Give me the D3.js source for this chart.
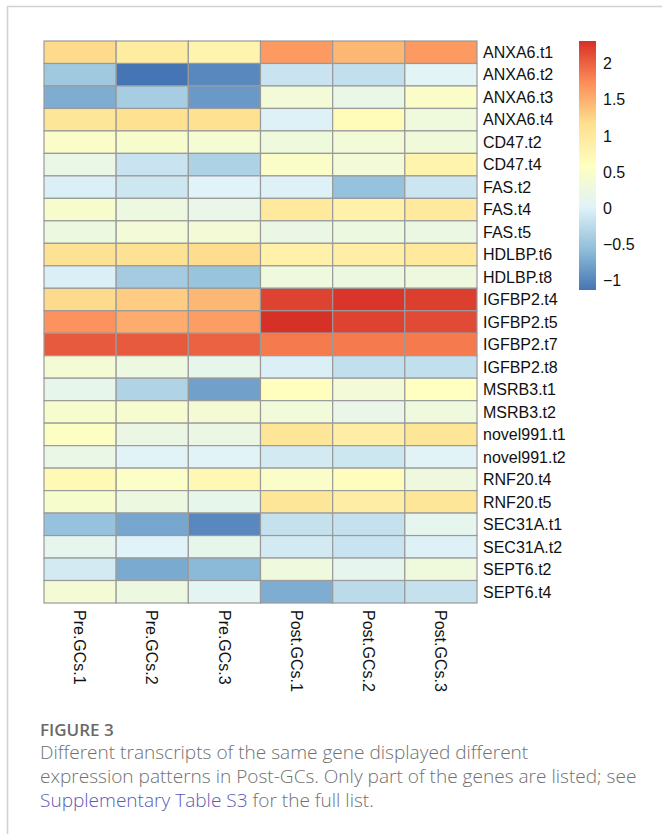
<!DOCTYPE html>
<html>
<head>
<meta charset="utf-8">
<script src="https://cdn.jsdelivr.net/npm/d3@7"></script>
<style>
  html, body { margin: 0; padding: 0; background: #fff; }
  svg { display: block; }
</style>
</head>
<body>
<svg id="fig" width="662" height="834"></svg>
<script>
// Samples (columns) and transcripts (rows)
const samples = ["Pre.GCs.1", "Pre.GCs.2", "Pre.GCs.3", "Post.GCs.1", "Post.GCs.2", "Post.GCs.3"];
const transcripts = [
  "ANXA6.t1", "ANXA6.t2", "ANXA6.t3", "ANXA6.t4", "CD47.t2", "CD47.t4",
  "FAS.t2", "FAS.t4", "FAS.t5", "HDLBP.t6", "HDLBP.t8", "IGFBP2.t4",
  "IGFBP2.t5", "IGFBP2.t7", "IGFBP2.t8", "MSRB3.t1", "MSRB3.t2",
  "novel991.t1", "novel991.t2", "RNF20.t4", "RNF20.t5", "SEC31A.t1",
  "SEC31A.t2", "SEPT6.t2", "SEPT6.t4"
];

// Scaled expression, one array per transcript (Pre 1-3, Post 1-3)
const ANXA6_t1   = [1.20, 0.95, 0.80, 1.65, 1.45, 1.65];
const ANXA6_t2   = [-0.45, -1.13, -0.98, -0.15, -0.20, 0.05];
const ANXA6_t3   = [-0.70, -0.40, -0.85, 0.35, 0.20, 0.50];
const ANXA6_t4   = [1.05, 1.15, 1.15, 0.00, 0.65, 0.30];
const CD47_t2    = [0.50, 0.45, 0.40, 0.30, 0.35, 0.32];
const CD47_t4    = [0.20, -0.15, -0.35, 0.50, 0.35, 0.80];
const FAS_t2     = [-0.03, -0.12, 0.02, 0.00, -0.52, -0.13];
const FAS_t4     = [0.45, 0.25, 0.18, 1.00, 0.85, 1.00];
const FAS_t5     = [0.25, 0.35, 0.37, 0.22, 0.25, 0.23];
const HDLBP_t6   = [1.12, 1.12, 1.18, 0.85, 0.90, 1.00];
const HDLBP_t8   = [-0.03, -0.42, -0.50, 0.28, 0.25, 0.27];
const IGFBP2_t4  = [1.20, 1.30, 1.45, 2.20, 2.28, 2.22];
const IGFBP2_t5  = [1.70, 1.52, 1.62, 2.31, 2.20, 2.15];
const IGFBP2_t7  = [2.05, 2.05, 2.00, 1.85, 1.85, 1.85];
const IGFBP2_t8  = [0.38, 0.25, 0.15, -0.03, -0.20, -0.20];
const MSRB3_t1   = [0.15, -0.33, -0.80, 0.60, 0.35, 0.58];
const MSRB3_t2   = [0.45, 0.42, 0.38, 0.33, 0.18, 0.28];
const novel991_t1 = [0.55, 0.22, 0.22, 1.05, 0.92, 1.05];
const novel991_t2 = [0.20, 0.03, 0.03, -0.08, -0.12, 0.03];
const RNF20_t4   = [0.70, 0.52, 0.72, 0.50, 0.62, 0.27];
const RNF20_t5   = [0.45, 0.25, 0.15, 1.05, 0.92, 1.05];
const SEC31A_t1  = [-0.52, -0.75, -0.98, -0.18, -0.18, 0.12];
const SEC31A_t2  = [0.12, 0.02, 0.15, -0.08, -0.15, 0.00];
const SEPT6_t2   = [-0.08, -0.72, -0.60, 0.28, 0.12, 0.30];
const SEPT6_t4   = [0.38, 0.25, 0.08, -0.70, -0.25, -0.18];

const rows = [
  ANXA6_t1, ANXA6_t2, ANXA6_t3, ANXA6_t4, CD47_t2, CD47_t4,
  FAS_t2, FAS_t4, FAS_t5, HDLBP_t6, HDLBP_t8, IGFBP2_t4,
  IGFBP2_t5, IGFBP2_t7, IGFBP2_t8, MSRB3_t1, MSRB3_t2,
  novel991_t1, novel991_t2, RNF20_t4, RNF20_t5, SEC31A_t1,
  SEC31A_t2, SEPT6_t2, SEPT6_t4
];

// Legend tick values
const legendTicks = [-1, -0.5, 0, 0.5, 1, 1.5, 2];

// Reversed RdYlBu (7 classes), blue -> red
const palette = ["#4575b4", "#91bfdb", "#e0f3f8", "#ffffbf", "#fee090", "#fc8d59", "#d73027"];

const cells = [];
rows.forEach((vals, i) => vals.forEach((v, j) => cells.push({ row: transcripts[i], col: samples[j], v })));

const [vmin, vmax] = d3.extent(cells, d => d.v);
const color = d3.scaleLinear()
  .domain(palette.map((_, k) => vmin + (vmax - vmin) * k / (palette.length - 1)))
  .range(palette)
  .interpolate(d3.interpolateRgb);

const svg = d3.select("#fig");

// Page frame
svg.append("path")
  .attr("d", "M7.5,834 V6.5 H662")
  .attr("fill", "none")
  .attr("stroke", "#d2d2d2")
  .attr("stroke-width", 1.6);

// Heatmap area
const hm = { left: 44, top: 41, right: 477, bottom: 603 };
const x = d3.scaleBand().domain(samples).range([hm.left, hm.right]);
const y = d3.scaleBand().domain(transcripts).range([hm.top, hm.bottom]);

svg.append("g")
  .selectAll("rect")
  .data(cells)
  .join("rect")
  .attr("x", d => x(d.col))
  .attr("y", d => y(d.row))
  .attr("width", x.bandwidth())
  .attr("height", y.bandwidth())
  .attr("fill", d => color(d.v))
  .attr("stroke", "#9a9a9a")
  .attr("stroke-width", 1.2);

const labelFont = "'Liberation Sans', Arial, Helvetica, sans-serif";

// Row labels
svg.append("g")
  .selectAll("text")
  .data(transcripts)
  .join("text")
  .attr("x", hm.right + 6)
  .attr("y", d => y(d) + y.bandwidth() / 2)
  .attr("dy", "0.36em")
  .attr("font-family", labelFont)
  .attr("font-size", 16)
  .attr("fill", "#111")
  .text(d => d);

// Column labels, rotated to read downward
svg.append("g")
  .selectAll("text")
  .data(samples)
  .join("text")
  .attr("transform", d => `translate(${x(d) + x.bandwidth() / 2},${hm.bottom + 7}) rotate(90)`)
  .attr("dy", "0.36em")
  .attr("font-family", labelFont)
  .attr("font-size", 16)
  .attr("fill", "#111")
  .text(d => d);

// Colour key
const key = { x: 579, w: 17, top: 41, bottom: 290 };
const ky = d3.scaleLinear().domain([vmin, vmax]).range([key.bottom, key.top]);

const defs = svg.append("defs");
const grad = defs.append("linearGradient")
  .attr("id", "keygrad")
  .attr("x1", 0).attr("y1", 1).attr("x2", 0).attr("y2", 0);
grad.selectAll("stop")
  .data(palette)
  .join("stop")
  .attr("offset", (_, k) => k / (palette.length - 1))
  .attr("stop-color", d => d);

svg.append("rect")
  .attr("x", key.x)
  .attr("y", key.top)
  .attr("width", key.w)
  .attr("height", key.bottom - key.top)
  .attr("fill", "url(#keygrad)");

svg.append("g")
  .selectAll("text")
  .data(legendTicks)
  .join("text")
  .attr("x", key.x + key.w + 7)
  .attr("y", d => ky(d))
  .attr("dy", "0.36em")
  .attr("font-family", labelFont)
  .attr("font-size", 16)
  .attr("fill", "#111")
  .text(d => d3.format("")(d).replace("-", "\u2212"));

// Caption
const capFont = "'Open Sans', Lato, sans-serif";
svg.append("text")
  .attr("x", 40)
  .attr("y", 736)
  .attr("font-family", capFont)
  .attr("font-weight", 600)
  .attr("font-size", 17)
  .attr("fill", "#6a6a6a")
  .text("FIGURE 3");

const capLines = [
  [{ t: "Different transcripts of the same gene displayed different" }],
  [{ t: "expression patterns in Post-GCs. Only part of the genes are listed; see" }],
  [{ t: "Supplementary Table S3", link: true }, { t: " for the full list." }]
];

const capG = svg.append("g");
capLines.forEach((parts, i) => {
  const t = capG.append("text")
    .attr("x", 40)
    .attr("y", 759 + i * 24)
    .attr("font-family", capFont)
    .attr("font-weight", 300)
    .attr("font-size", 17)
    .attr("fill", "#707070");
  parts.forEach(p => {
    t.append("tspan")
      .attr("fill", p.link ? "#5a5ab4" : "#707070")
      .text(p.t);
  });
});

// Fit the caption so the longest line spans the text column
const longest = capG.selectAll("text").nodes()[1];
const w = longest.getComputedTextLength();
const fs = 17 * 597 / w;
capG.selectAll("text").attr("font-size", fs);
</script>
</body>
</html>
